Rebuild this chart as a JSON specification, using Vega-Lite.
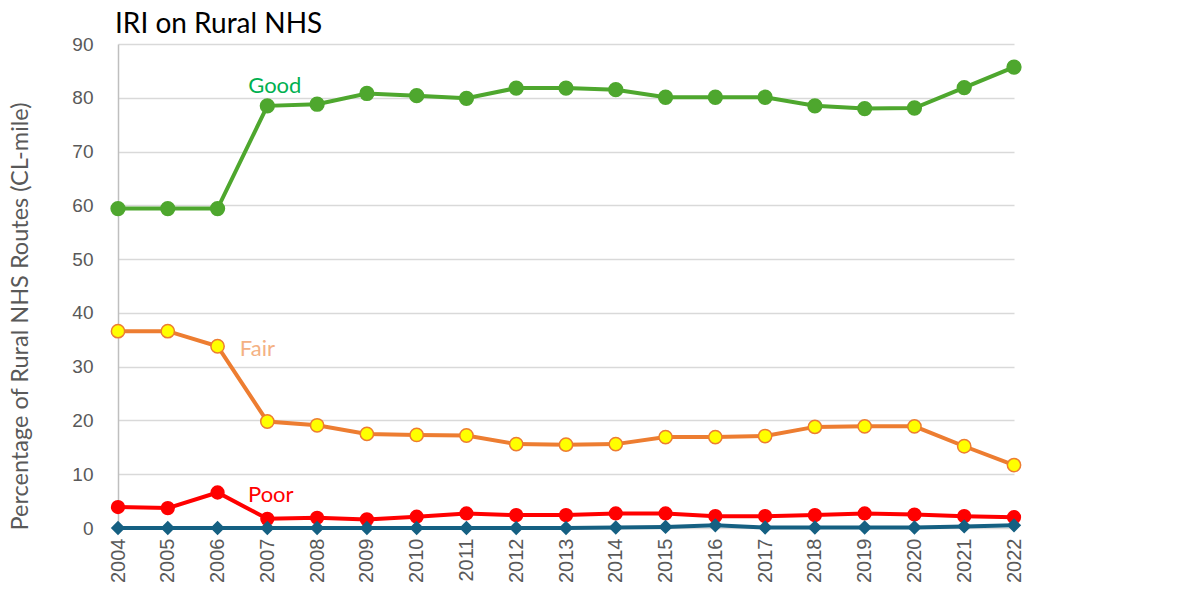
{
  "$schema": "https://vega.github.io/schema/vega-lite/v6.json",
  "width": 896,
  "height": 484,
  "autosize": {"type": "none"},
  "padding": {"left": 118, "top": 44, "right": 164, "bottom": 68},
  "background": "white",
  "config": {"view": {"stroke": null}},
  "title": {
    "text": "IRI on Rural NHS",
    "anchor": "start",
    "frame": "group",
    "font": "Lato",
    "fontSize": 28,
    "fontWeight": "normal",
    "color": "#000000",
    "offset": 4,
    "dy": 8,
    "dx": -3
  },
  "datasets": {
    "rows": [
      {"year": 2004, "series": "Good", "value": 59.4},
      {"year": 2005, "series": "Good", "value": 59.4},
      {"year": 2006, "series": "Good", "value": 59.4},
      {"year": 2007, "series": "Good", "value": 78.5},
      {"year": 2008, "series": "Good", "value": 78.8},
      {"year": 2009, "series": "Good", "value": 80.8},
      {"year": 2010, "series": "Good", "value": 80.4},
      {"year": 2011, "series": "Good", "value": 79.9},
      {"year": 2012, "series": "Good", "value": 81.8},
      {"year": 2013, "series": "Good", "value": 81.8},
      {"year": 2014, "series": "Good", "value": 81.5},
      {"year": 2015, "series": "Good", "value": 80.1},
      {"year": 2016, "series": "Good", "value": 80.1},
      {"year": 2017, "series": "Good", "value": 80.1},
      {"year": 2018, "series": "Good", "value": 78.5},
      {"year": 2019, "series": "Good", "value": 78.0},
      {"year": 2020, "series": "Good", "value": 78.1},
      {"year": 2021, "series": "Good", "value": 81.9},
      {"year": 2022, "series": "Good", "value": 85.7},
      {"year": 2004, "series": "Fair", "value": 36.6},
      {"year": 2005, "series": "Fair", "value": 36.6},
      {"year": 2006, "series": "Fair", "value": 33.8},
      {"year": 2007, "series": "Fair", "value": 19.8},
      {"year": 2008, "series": "Fair", "value": 19.1},
      {"year": 2009, "series": "Fair", "value": 17.5},
      {"year": 2010, "series": "Fair", "value": 17.3},
      {"year": 2011, "series": "Fair", "value": 17.2},
      {"year": 2012, "series": "Fair", "value": 15.6},
      {"year": 2013, "series": "Fair", "value": 15.5},
      {"year": 2014, "series": "Fair", "value": 15.6},
      {"year": 2015, "series": "Fair", "value": 16.9},
      {"year": 2016, "series": "Fair", "value": 16.9},
      {"year": 2017, "series": "Fair", "value": 17.1},
      {"year": 2018, "series": "Fair", "value": 18.8},
      {"year": 2019, "series": "Fair", "value": 18.9},
      {"year": 2020, "series": "Fair", "value": 18.9},
      {"year": 2021, "series": "Fair", "value": 15.2},
      {"year": 2022, "series": "Fair", "value": 11.7},
      {"year": 2004, "series": "Poor", "value": 3.9},
      {"year": 2005, "series": "Poor", "value": 3.7},
      {"year": 2006, "series": "Poor", "value": 6.6},
      {"year": 2007, "series": "Poor", "value": 1.7},
      {"year": 2008, "series": "Poor", "value": 1.9},
      {"year": 2009, "series": "Poor", "value": 1.6},
      {"year": 2010, "series": "Poor", "value": 2.1},
      {"year": 2011, "series": "Poor", "value": 2.7},
      {"year": 2012, "series": "Poor", "value": 2.4},
      {"year": 2013, "series": "Poor", "value": 2.4},
      {"year": 2014, "series": "Poor", "value": 2.7},
      {"year": 2015, "series": "Poor", "value": 2.7},
      {"year": 2016, "series": "Poor", "value": 2.2},
      {"year": 2017, "series": "Poor", "value": 2.2},
      {"year": 2018, "series": "Poor", "value": 2.4},
      {"year": 2019, "series": "Poor", "value": 2.7},
      {"year": 2020, "series": "Poor", "value": 2.5},
      {"year": 2021, "series": "Poor", "value": 2.2},
      {"year": 2022, "series": "Poor", "value": 2.0},
      {"year": 2004, "series": "Very Poor", "value": 0.0},
      {"year": 2005, "series": "Very Poor", "value": 0.0},
      {"year": 2006, "series": "Very Poor", "value": 0.0},
      {"year": 2007, "series": "Very Poor", "value": 0.0},
      {"year": 2008, "series": "Very Poor", "value": 0.0},
      {"year": 2009, "series": "Very Poor", "value": 0.0},
      {"year": 2010, "series": "Very Poor", "value": 0.0},
      {"year": 2011, "series": "Very Poor", "value": 0.0},
      {"year": 2012, "series": "Very Poor", "value": 0.0},
      {"year": 2013, "series": "Very Poor", "value": 0.0},
      {"year": 2014, "series": "Very Poor", "value": 0.1},
      {"year": 2015, "series": "Very Poor", "value": 0.2},
      {"year": 2016, "series": "Very Poor", "value": 0.5},
      {"year": 2017, "series": "Very Poor", "value": 0.1},
      {"year": 2018, "series": "Very Poor", "value": 0.1},
      {"year": 2019, "series": "Very Poor", "value": 0.1},
      {"year": 2020, "series": "Very Poor", "value": 0.1},
      {"year": 2021, "series": "Very Poor", "value": 0.3},
      {"year": 2022, "series": "Very Poor", "value": 0.5}
    ],
    "labels": [
      {"label": "Good", "year": 2007.15, "value": 82.2},
      {"label": "Fair", "year": 2006.8, "value": 33.3},
      {"label": "Poor", "year": 2007.07, "value": 6.1}
    ]
  },
  "layer": [
    {
      "data": {"name": "rows"},
      "mark": {"type": "line", "strokeWidth": 4},
      "encoding": {
        "x": {
          "field": "year",
          "type": "quantitative",
          "scale": {"domain": [2004, 2022], "nice": false, "zero": false},
          "axis": {
            "title": null,
            "values": [2004,2005,2006,2007,2008,2009,2010,2011,2012,2013,2014,2015,2016,2017,2018,2019,2020,2021,2022],
            "format": "d",
            "labelAngle": -90,
            "labelFont": "Liberation Sans",
            "labelFontSize": 20,
            "labelColor": "#595959",
            "labelPadding": 10,
            "ticks": false,
            "domain": false,
            "grid": false,
            "labelFlush": false,
            "labelOverlap": false
          }
        },
        "y": {
          "field": "value",
          "type": "quantitative",
          "scale": {"domain": [0, 90], "nice": false},
          "axis": {
            "title": "Percentage of Rural NHS Routes (CL-mile)",
            "titleFont": "Lato",
            "titleFontSize": 23.5,
            "titleFontWeight": "normal",
            "titleColor": "#595959",
            "titleAngle": -90,
            "titleAlign": "center",
            "titleBaseline": "middle",
            "titleX": -98,
            "titleY": 272,
            "values": [0,10,20,30,40,50,60,70,80,90],
            "labelFont": "Liberation Sans",
            "labelFontSize": 19,
            "labelColor": "#595959",
            "labelPadding": 25,
            "ticks": false,
            "domain": true,
            "domainColor": "#BFBFBF",
            "domainWidth": 1.5,
            "grid": true,
            "gridColor": "#D9D9D9",
            "gridWidth": 1.5
          }
        },
        "color": {
          "field": "series",
          "type": "nominal",
          "scale": {"domain": ["Good", "Fair", "Poor", "Very Poor"], "range": ["#4EA72E", "#ED7D31", "#FF0000", "#156082"]},
          "legend": null
        }
      }
    },
    {
      "data": {"name": "rows"},
      "mark": {"type": "point", "filled": false, "strokeWidth": 1.5, "opacity": 1},
      "encoding": {
        "x": {"field": "year", "type": "quantitative"},
        "y": {"field": "value", "type": "quantitative"},
        "fill": {
          "field": "series",
          "type": "nominal",
          "scale": {"domain": ["Good", "Fair", "Poor", "Very Poor"], "range": ["#4EA72E", "#FFFF00", "#FF0000", "#156082"]},
          "legend": null
        },
        "stroke": {
          "field": "series",
          "type": "nominal",
          "scale": {"domain": ["Good", "Fair", "Poor", "Very Poor"], "range": ["#4EA72E", "#ED7D31", "#FF0000", "#156082"]},
          "legend": null
        },
        "shape": {
          "field": "series",
          "type": "nominal",
          "scale": {"domain": ["Good", "Fair", "Poor", "Very Poor"], "range": ["circle", "circle", "circle", "diamond"]},
          "legend": null
        },
        "size": {
          "field": "series",
          "type": "nominal",
          "scale": {"domain": ["Good", "Fair", "Poor", "Very Poor"], "range": [190, 150, 190, 170]},
          "legend": null
        }
      }
    },
    {
      "data": {"name": "labels"},
      "mark": {"type": "text", "font": "Lato", "fontSize": 22, "align": "center", "baseline": "middle"},
      "encoding": {
        "x": {"field": "year", "type": "quantitative"},
        "y": {"field": "value", "type": "quantitative"},
        "text": {"field": "label"},
        "color": {
          "field": "label",
          "type": "nominal",
          "scale": {"domain": ["Good", "Fair", "Poor"], "range": ["#00B050", "#F4B183", "#FF0000"]},
          "legend": null
        }
      }
    }
  ],
  "resolve": {"scale": {"color": "independent"}}
}
